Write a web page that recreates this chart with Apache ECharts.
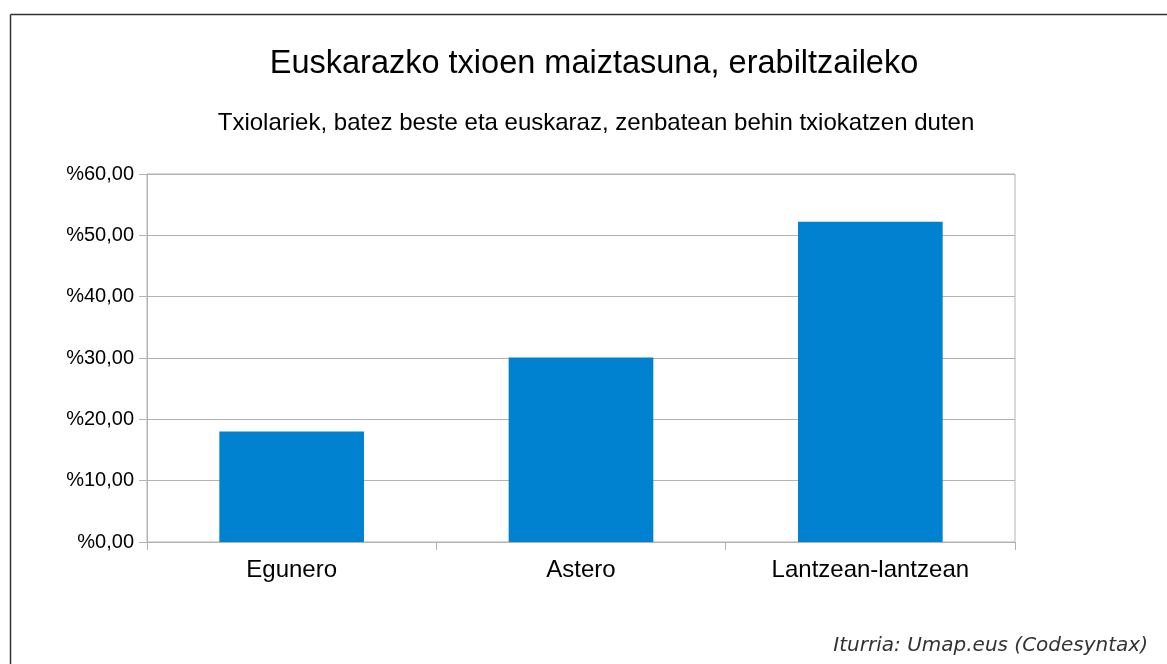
<!DOCTYPE html>
<html><head><meta charset="utf-8">
<script src="https://cdn.jsdelivr.net/npm/echarts@6/dist/echarts.min.js"></script>
<style>html,body{margin:0;padding:0;background:#fff}#c{width:1167px;height:664px}</style>
</head><body><div id="c"></div>
<script>
const categories = ["Egunero", "Astero", "Lantzean-lantzean"];
const values = [18.0, 30.1, 52.2];
const yTicks = [0, 10, 20, 30, 40, 50, 60];
const titleText = "Euskarazko txioen maiztasuna, erabiltzaileko";
const subtitleText = "Txiolariek, batez beste eta euskaraz, zenbatean behin txiokatzen duten";
const sourceText = "Iturria: Umap.eus (Codesyntax)";

const chart = echarts.init(document.getElementById('c'), null, {renderer:'canvas'});
chart.setOption({
  animation: false,
  backgroundColor: '#fff',
  title: [
    {text: titleText, left: 589, top: 43, textAlign: 'center',
     textStyle: {fontFamily: 'Liberation Sans', fontSize: 32.5, fontWeight: 'normal', color: '#000'}},
    {text: subtitleText, left: 591, top: 106, textAlign: 'center',
     textStyle: {fontFamily: 'Liberation Sans', fontSize: 24, fontWeight: 'normal', color: '#000'}},
    {text: sourceText, right: 14, top: 631,
     textStyle: {fontFamily: 'DejaVu Sans', fontSize: 20, fontStyle: 'italic', fontWeight: 'normal', color: '#333'}}
  ],
  graphic: [
    {type: 'line', shape: {x1: 10.5, y1: 14.5, x2: 1167, y2: 14.5}, style: {stroke: '#333', lineWidth: 1.5}},
    {type: 'line', shape: {x1: 10.5, y1: 14.5, x2: 10.5, y2: 664}, style: {stroke: '#333', lineWidth: 1.5}}
  ],
  grid: {left: 147, right: 152, top: 174, bottom: 122, containLabel: false,
         show: true, borderColor: '#b3b3b3', borderWidth: 1},
  xAxis: {
    type: 'category', data: categories,
    axisLine: {show: true, lineStyle: {color: '#b3b3b3'}},
    axisTick: {show: true, length: 8, lineStyle: {color: '#b3b3b3'}},
    axisLabel: {fontFamily: 'Liberation Sans', fontSize: 24, color: '#000', margin: 16}
  },
  yAxis: {
    type: 'value', min: 0, max: 60, interval: 10,
    axisLine: {show: true, lineStyle: {color: '#b3b3b3'}},
    axisTick: {show: true, length: 8, lineStyle: {color: '#b3b3b3'}},
    splitLine: {show: true, lineStyle: {color: '#b3b3b3'}},
    axisLabel: {fontFamily: 'Liberation Sans', fontSize: 20, color: '#000', margin: 13,
      formatter: v => '%' + v.toFixed(2).replace('.', ',')}
  },
  series: [{
    type: 'bar', data: values, barWidth: '50%',
    itemStyle: {color: '#0082d0'}
  }]
});
</script></body></html>
